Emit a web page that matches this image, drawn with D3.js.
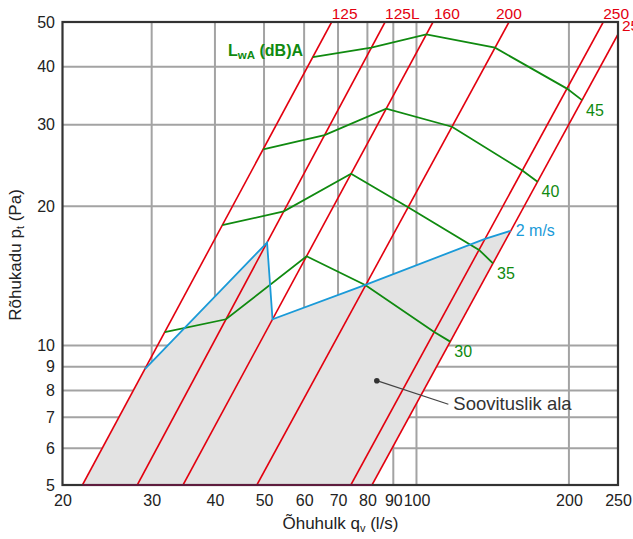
<!DOCTYPE html>
<html>
<head>
<meta charset="utf-8">
<script src="https://cdn.jsdelivr.net/npm/d3@7"></script>
<style>
  html, body { margin: 0; padding: 0; background: #fff; overflow: hidden; }
  svg { display: block; font-family: "Liberation Sans", Arial, sans-serif; }
</style>
</head>
<body>
<svg id="chart" width="633" height="539"></svg>
<script>
// ---- data ----
const xTicks = [20, 30, 40, 50, 60, 70, 80, 90, 100, 200, 250];
const yTicks = [5, 6, 7, 8, 9, 10, 20, 30, 40, 50];
const xGrid = [30, 40, 50, 60, 70, 80, 90, 100, 200];
const yGrid = [6, 7, 8, 9, 10, 20, 30, 40];

// duct size lines: airflow (l/s) at 5 Pa and at 50 Pa
const ductNames = ["125", "125L", "160", "200", "250", "250L"];
const ductQ5  = [21.9, 28.1, 34.6, 48.4, 74.2, 81.7];
const ductQ50 = [68.0, 86.7, 107.8, 152.3, 233.8, 257.7];

// sound power contours: pressure (Pa) where each contour crosses each duct line
const soundLevels = ["45", "40", "35", "30"];
const sound45 = [42.0, 44.0, 47.0, 44.0, 35.9, 33.9];
const sound40 = [26.55, 28.5, 32.5, 29.7, 23.9, 22.6];
const sound35 = [18.2, 19.5, 23.5, 19.9, 16.1, 15.06];
const sound30 = [10.7, 11.4, 15.6, 13.5, 10.7, 10.2];

// 2 m/s velocity line: pressure (Pa) at each duct line
const velocityLabel = "2 m/s";
const velocity2 = [8.9, 16.7, 11.4, 13.55, 17.0, 17.7];

// annotation point and leader end (q, p)
const noteText = "Soovituslik ala";
const notePoint = [83.5, 8.4];
const noteEnd = [115.6, 7.47];

// ---- layout ----
const W = 633, H = 539;
const M = { left: 62.5, right: 618, top: 22, bottom: 485 };
const svg = d3.select("#chart");
const x = d3.scaleLog().domain([20, 250]).range([M.left, M.right]);
const y = d3.scaleLog().domain([5, 50]).range([M.bottom, M.top]);

const RED = "#e3000f", GREEN = "#108a10", BLUE = "#1a9ad8", GRID = "#a3a3a3";

function qAt(i, p) {
  return ductQ5[i] * Math.pow(ductQ50[i] / ductQ5[i], Math.log10(p / 5));
}
const line = d3.line().x(d => x(d[0])).y(d => y(d[1]));

svg.append("defs").append("clipPath").attr("id", "plot")
  .append("rect").attr("x", M.left).attr("y", M.top)
  .attr("width", M.right - M.left).attr("height", M.bottom - M.top);

// grid
const g = svg.append("g");
g.selectAll(".vx").data(xGrid).enter().append("line")
  .attr("x1", d => x(d)).attr("x2", d => x(d))
  .attr("y1", M.top).attr("y2", M.bottom)
  .attr("stroke", GRID).attr("stroke-width", 2);
g.selectAll(".hy").data(yGrid).enter().append("line")
  .attr("y1", d => y(d)).attr("y2", d => y(d))
  .attr("x1", M.left).attr("x2", M.right)
  .attr("stroke", GRID).attr("stroke-width", 2);

const plot = svg.append("g").attr("clip-path", "url(#plot)");

// recommended area fill
const last = ductQ5.length - 1;
const velPts = velocity2.map((p, i) => [qAt(i, p), p]);
const areaPts = [[ductQ5[0], 5]].concat(velPts, [[ductQ5[last], 5]]);
plot.append("path").attr("d", line(areaPts) + "Z")
  .attr("fill", "#e3e3e3").attr("stroke", "none");

// duct lines
plot.selectAll(".duct").data(ductNames).enter().append("path")
  .attr("d", (d, i) => line([[ductQ5[i], 5], [ductQ50[i], 50]]))
  .attr("stroke", RED).attr("stroke-width", 1.6).attr("fill", "none");

// sound contours
const soundData = [sound45, sound40, sound35, sound30];
soundData.forEach((arr, k) => {
  const pts = arr.map((p, i) => [qAt(i, p), p]);
  plot.append("path").attr("d", line(pts))
    .attr("stroke", GREEN).attr("stroke-width", 1.8).attr("fill", "none");
  const e = pts[pts.length - 1];
  svg.append("text").attr("x", x(e[0]) + 4).attr("y", y(e[1]) + 15.5)
    .attr("fill", GREEN).attr("font-size", 16).text(soundLevels[k]);
});

// velocity line
plot.append("path").attr("d", line(velPts))
  .attr("stroke", BLUE).attr("stroke-width", 1.8).attr("fill", "none")
  .attr("stroke-linejoin", "miter");
const ve = velPts[velPts.length - 1];
svg.append("text").attr("x", x(ve[0]) + 5).attr("y", y(ve[1]) + 5)
  .attr("fill", BLUE).attr("font-size", 16).text(velocityLabel);

// legend title
const lt = svg.append("text").attr("x", 228).attr("y", 56)
  .attr("fill", GREEN).attr("font-size", 16).attr("font-weight", "bold");
lt.append("tspan").text("L");
lt.append("tspan").attr("font-size", 11.5).attr("dy", 3).text("wA");
lt.append("tspan").attr("dy", -3).text(" (dB)A");

// annotation
svg.append("line")
  .attr("x1", x(notePoint[0])).attr("y1", y(notePoint[1]))
  .attr("x2", x(noteEnd[0])).attr("y2", y(noteEnd[1]))
  .attr("stroke", "#444").attr("stroke-width", 1.2);
svg.append("circle").attr("cx", x(notePoint[0])).attr("cy", y(notePoint[1]))
  .attr("r", 2.8).attr("fill", "#333");
svg.append("text").attr("x", x(noteEnd[0]) + 5).attr("y", y(noteEnd[1]) + 6)
  .attr("fill", "#333").attr("font-size", 18.5).text(noteText);

// frame
svg.append("rect").attr("x", M.left).attr("y", M.top)
  .attr("width", M.right - M.left).attr("height", M.bottom - M.top)
  .attr("fill", "none").attr("stroke", "#333").attr("stroke-width", 2.2);
svg.append("line")
  .attr("x1", x(ductQ5[0])).attr("x2", x(ductQ5[last]))
  .attr("y1", M.bottom).attr("y2", M.bottom)
  .attr("stroke", "#5e1c3e").attr("stroke-width", 2.2);

// duct labels at top
const labelDx = [0, 0, 1, -13, 0, 4];
ductNames.forEach((n, i) => {
  let lx, ly;
  if (ductQ50[i] <= 250) { lx = x(ductQ50[i]) + labelDx[i]; ly = M.top - 3; }
  else {
    const pEdge = 5 * Math.pow(10, Math.log10(250 / ductQ5[i]) / Math.log10(ductQ50[i] / ductQ5[i]));
    lx = M.right + labelDx[i]; ly = y(pEdge) - 3;
  }
  svg.append("text").attr("x", lx).attr("y", ly).attr("fill", RED)
    .attr("font-size", 15.5).text(n);
});

// axis tick labels
const xAxis = d3.axisBottom(x).tickValues(xTicks).tickFormat(d3.format("d")).tickSize(0).tickPadding(10);
const ax = svg.append("g").attr("transform", `translate(0,${M.bottom})`).call(xAxis);
ax.select(".domain").remove();
ax.selectAll("text").attr("font-size", 16).attr("fill", "#222")
  .attr("font-family", "Liberation Sans, Arial, sans-serif");

const yAxis = d3.axisLeft(y).tickValues(yTicks).tickFormat(d3.format("d")).tickSize(0).tickPadding(7.5);
const ay = svg.append("g").attr("transform", `translate(${M.left},0)`).call(yAxis);
ay.select(".domain").remove();
ay.selectAll("text").attr("font-size", 16).attr("fill", "#222")
  .attr("font-family", "Liberation Sans, Arial, sans-serif");

// axis titles
const xt = svg.append("text").attr("x", 340.5).attr("y", 529)
  .attr("text-anchor", "middle").attr("font-size", 17).attr("fill", "#222");
xt.append("tspan").text("Õhuhulk q");
xt.append("tspan").attr("font-size", 11).attr("dy", 3).text("v");
xt.append("tspan").attr("dy", -3).text(" (l/s)");

const yt = svg.append("text").attr("transform", "translate(21,255) rotate(-90)")
  .attr("text-anchor", "middle").attr("font-size", 17).attr("fill", "#222");
yt.append("tspan").text("Rõhukadu p");
yt.append("tspan").attr("font-size", 11).attr("dy", 3).text("t");
yt.append("tspan").attr("dy", -3).text(" (Pa)");
</script>
</body>
</html>
